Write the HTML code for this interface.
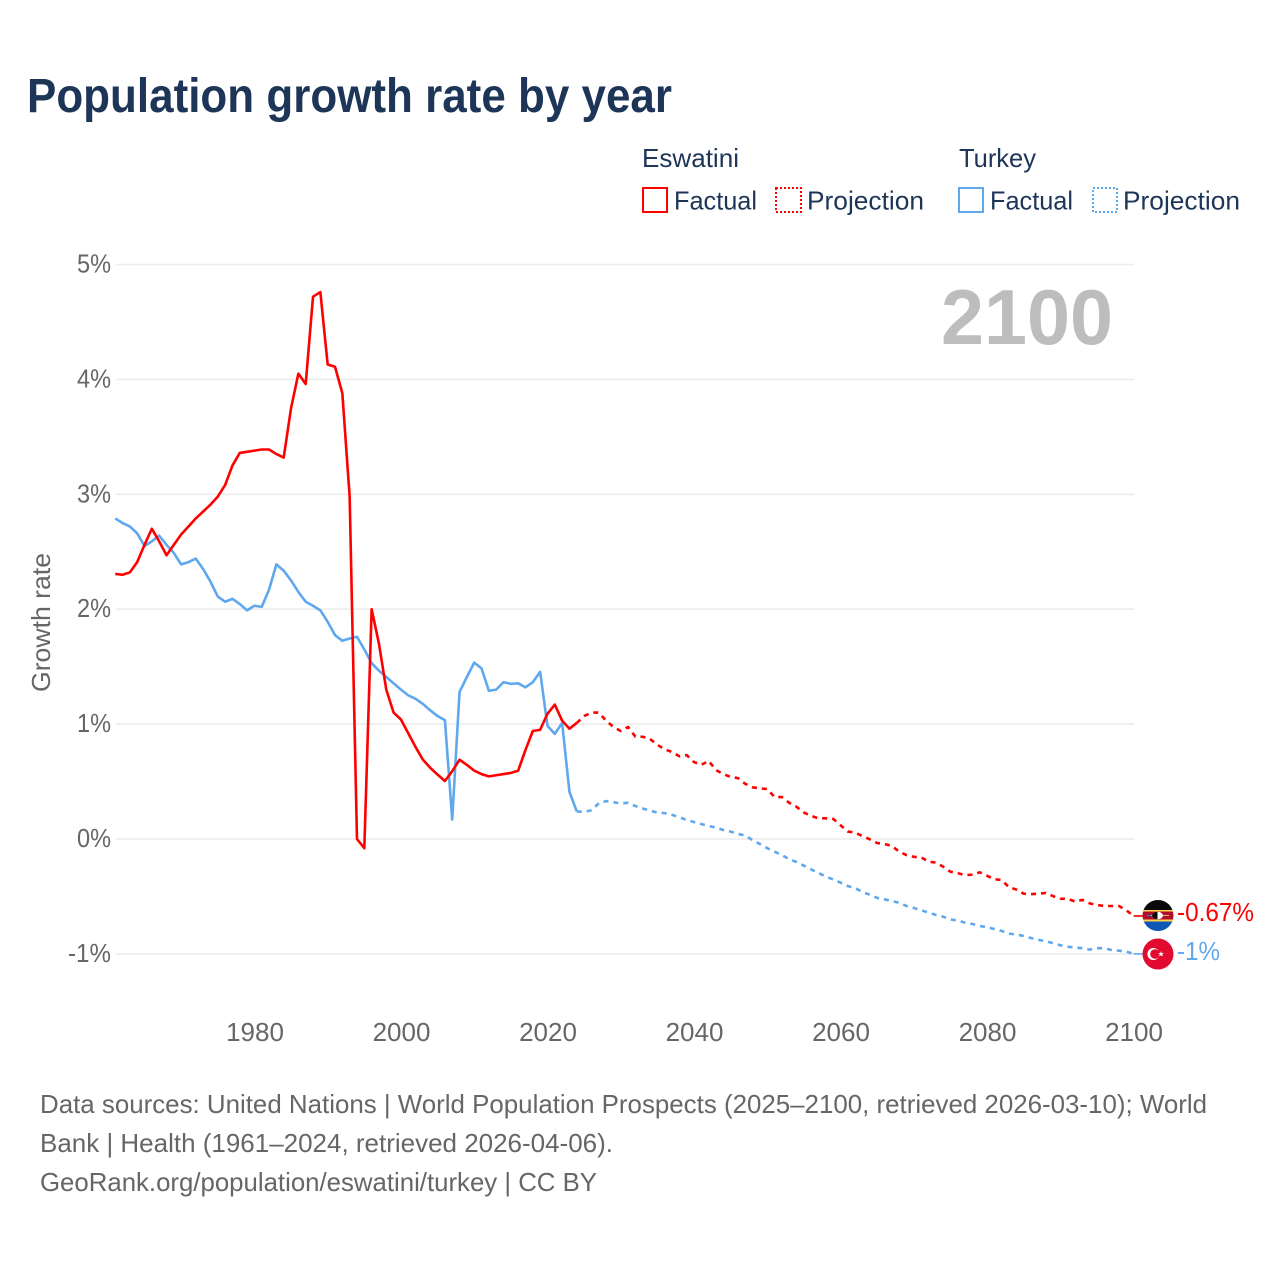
<!DOCTYPE html>
<html lang="en">
<head>
<meta charset="utf-8">
<title>Population growth rate by year</title>
<style>
  html, body { margin: 0; padding: 0; background: #fff; }
  svg { display: block; font-family: "Liberation Sans", sans-serif; }
</style>
</head>
<body>
<svg id="chart" width="1280" height="1280" viewBox="0 0 1280 1280" xmlns="http://www.w3.org/2000/svg">
  <rect x="0" y="0" width="1280" height="1280" fill="#ffffff"/>
  <text x="27" y="112" font-size="48" font-weight="700" fill="#1d3557" textLength="645" lengthAdjust="spacingAndGlyphs">Population growth rate by year</text>

  <g font-size="26" fill="#1d3557">
    <text x="642" y="167" textLength="97" lengthAdjust="spacingAndGlyphs">Eswatini</text>
    <text x="959" y="167" textLength="77" lengthAdjust="spacingAndGlyphs">Turkey</text>
    <rect x="643" y="188" width="24" height="24" fill="none" stroke="#ff0000" stroke-width="2"/>
    <text x="674" y="209.5" textLength="83" lengthAdjust="spacingAndGlyphs">Factual</text>
    <rect x="776" y="188" width="25" height="24" fill="none" stroke="#ff0000" stroke-width="2" stroke-dasharray="2 2"/>
    <text x="807" y="209.5" textLength="117" lengthAdjust="spacingAndGlyphs">Projection</text>
    <rect x="959" y="188" width="24" height="24" fill="none" stroke="#5fa8ee" stroke-width="2"/>
    <text x="990" y="209.5" textLength="83" lengthAdjust="spacingAndGlyphs">Factual</text>
    <rect x="1093" y="188" width="24" height="24" fill="none" stroke="#5fa8ee" stroke-width="2" stroke-dasharray="2 2"/>
    <text x="1123" y="209.5" textLength="117" lengthAdjust="spacingAndGlyphs">Projection</text>
  </g>

  <g id="grid"></g>
  <g id="y-ticks" font-size="26" fill="#666666"></g>
  <g id="x-ticks" font-size="26" fill="#666666"></g>

  <text transform="translate(50 622.5) rotate(-90)" text-anchor="middle" font-size="26" fill="#666666" textLength="139" lengthAdjust="spacingAndGlyphs">Growth rate</text>
  <text x="941" y="344" font-size="78" font-weight="700" fill="#bdbdbd" textLength="172" lengthAdjust="spacingAndGlyphs">2100</text>

  <g id="series"></g>

  <defs>
    <clipPath id="clip-eswatini"><circle cx="1158" cy="915.5" r="15.5"/></clipPath>
  </defs>
  <g clip-path="url(#clip-eswatini)">
    <rect x="1142" y="900" width="32" height="10" fill="#0a0a0a"/>
    <rect x="1142" y="910" width="32" height="1.5" fill="#ffd34d"/>
    <rect x="1142" y="911.5" width="32" height="8" fill="#b10c2b"/>
    <rect x="1142" y="919.5" width="32" height="2" fill="#ffd34d"/>
    <rect x="1142" y="921.5" width="32" height="10" fill="#0f57b5"/>
    <rect x="1147" y="915" width="22" height="1" fill="#e8c060"/>
    <ellipse cx="1157.5" cy="915.5" rx="5.5" ry="3.8" fill="#ffffff"/>
    <path d="M1157.5 911.7 A5.5 3.8 0 0 0 1157.5 919.3 Z" fill="#0a0a0a"/>
    <circle cx="1149" cy="915.5" r="1.4" fill="#2a4fa0"/>
  </g>
  <g>
    <circle cx="1158" cy="954" r="15.5" fill="#e30a2f"/>
    <circle cx="1153.4" cy="954" r="6" fill="#ffffff"/>
    <circle cx="1155" cy="954" r="4.8" fill="#e30a2f"/>
    <polygon points="1161,951 1161.7,953.1 1164,953.1 1162.2,954.4 1162.9,956.5 1161,955.2 1159.1,956.5 1159.8,954.4 1158,953.1 1160.3,953.1" fill="#ffffff"/>
  </g>
  <text x="1177" y="921" font-size="25.5" fill="#ff0000" textLength="77" lengthAdjust="spacingAndGlyphs">-0.67%</text>
  <text x="1177" y="960" font-size="25.5" fill="#5fa8ee" textLength="43" lengthAdjust="spacingAndGlyphs">-1%</text>

  <g font-size="26" fill="#666666">
    <text x="40" y="1113" textLength="1167" lengthAdjust="spacingAndGlyphs">Data sources: United Nations | World Population Prospects (2025–2100, retrieved 2026-03-10); World</text>
    <text x="40" y="1152" textLength="573" lengthAdjust="spacingAndGlyphs">Bank | Health (1961–2024, retrieved 2026-04-06).</text>
    <text x="40" y="1191" textLength="557" lengthAdjust="spacingAndGlyphs">GeoRank.org/population/eswatini/turkey | CC BY</text>
  </g>
</svg>

<script>
const factualYears = [1961,1962,1963,1964,1965,1966,1967,1968,1969,1970,1971,1972,1973,1974,1975,1976,1977,1978,1979,1980,1981,1982,1983,1984,1985,1986,1987,1988,1989,1990,1991,1992,1993,1994,1995,1996,1997,1998,1999,2000,2001,2002,2003,2004,2005,2006,2007,2008,2009,2010,2011,2012,2013,2014,2015,2016,2017,2018,2019,2020,2021,2022,2023,2024];
const projectionYears = [2024,2025,2026,2027,2028,2029,2030,2031,2032,2033,2034,2035,2036,2037,2038,2039,2040,2041,2042,2043,2044,2045,2046,2047,2048,2049,2050,2051,2052,2053,2054,2055,2056,2057,2058,2059,2060,2061,2062,2063,2064,2065,2066,2067,2068,2069,2070,2071,2072,2073,2074,2075,2076,2077,2078,2079,2080,2081,2082,2083,2084,2085,2086,2087,2088,2089,2090,2091,2092,2093,2094,2095,2096,2097,2098,2099,2100];
const eswatiniFactual = [2.307,2.30,2.32,2.41,2.56,2.70,2.59,2.47,2.56,2.65,2.72,2.79,2.85,2.91,2.98,3.08,3.25,3.36,3.37,3.38,3.39,3.39,3.35,3.32,3.75,4.05,3.96,4.72,4.76,4.13,4.11,3.88,2.98,0.0,-0.08,2.00,1.70,1.30,1.10,1.04,0.92,0.80,0.69,0.62,0.56,0.505,0.59,0.69,0.645,0.595,0.565,0.545,0.555,0.565,0.575,0.595,0.775,0.94,0.95,1.09,1.17,1.03,0.96,1.01];
const eswatiniProjection = [1.01,1.07,1.10,1.10,1.03,0.975,0.94,0.975,0.89,0.89,0.87,0.82,0.78,0.757,0.72,0.73,0.67,0.645,0.68,0.60,0.565,0.54,0.53,0.48,0.45,0.44,0.435,0.365,0.365,0.315,0.28,0.23,0.20,0.18,0.18,0.175,0.12,0.065,0.055,0.026,-0.003,-0.035,-0.044,-0.06,-0.11,-0.14,-0.155,-0.16,-0.197,-0.205,-0.24,-0.285,-0.297,-0.315,-0.31,-0.29,-0.32,-0.35,-0.357,-0.42,-0.44,-0.476,-0.48,-0.476,-0.47,-0.497,-0.52,-0.52,-0.545,-0.53,-0.56,-0.575,-0.583,-0.583,-0.583,-0.62,-0.67];
const turkeyFactual = [2.79,2.75,2.72,2.66,2.55,2.59,2.64,2.56,2.49,2.39,2.41,2.44,2.35,2.24,2.11,2.065,2.09,2.045,1.99,2.03,2.02,2.17,2.39,2.335,2.25,2.15,2.065,2.03,1.99,1.89,1.775,1.725,1.745,1.76,1.65,1.53,1.465,1.41,1.355,1.30,1.25,1.22,1.175,1.12,1.07,1.035,0.17,1.28,1.41,1.535,1.485,1.29,1.30,1.365,1.35,1.355,1.32,1.365,1.455,0.985,0.915,1.01,0.41,0.24];
const turkeyProjection = [0.24,0.235,0.25,0.31,0.33,0.32,0.31,0.315,0.287,0.265,0.247,0.23,0.225,0.21,0.19,0.165,0.148,0.13,0.113,0.10,0.078,0.064,0.044,0.03,-0.01,-0.044,-0.08,-0.11,-0.14,-0.177,-0.20,-0.232,-0.265,-0.296,-0.328,-0.352,-0.38,-0.41,-0.427,-0.462,-0.485,-0.513,-0.525,-0.54,-0.555,-0.583,-0.60,-0.62,-0.64,-0.66,-0.676,-0.70,-0.71,-0.728,-0.74,-0.757,-0.768,-0.783,-0.80,-0.824,-0.83,-0.844,-0.862,-0.877,-0.89,-0.907,-0.925,-0.937,-0.945,-0.95,-0.963,-0.95,-0.95,-0.966,-0.972,-0.98,-1.0];
const yTickValues = [5,4,3,2,1,0,-1];
const yTickLabels = ["5%","4%","3%","2%","1%","0%","-1%"];
const xTickYears = [1980,2000,2020,2040,2060,2080,2100];

const SVG_NS = "http://www.w3.org/2000/svg";
const xAxis = year => 115.2 + (year - 1961) * (1133.6 - 115.2) / (2100 - 1961);
const yAxis = value => 839 - value * 114.9;
const xLabelAxis = year => 255 + (year - 1980) * 7.325;

function make(parentId, tag, attrs, text) {
  const node = document.createElementNS(SVG_NS, tag);
  for (const key in attrs) node.setAttribute(key, attrs[key]);
  if (text !== undefined) node.textContent = text;
  document.getElementById(parentId).appendChild(node);
  return node;
}

yTickValues.forEach((value, i) => {
  const gridLine = make("grid", "line", { x1: 116, x2: 1134, y1: yAxis(value), y2: yAxis(value), stroke: "#ececec", "stroke-width": 1.6 });
  
  
  const label = yTickLabels[i];
  const yLabel = make("y-ticks", "text", { x: 111, y: yAxis(value) + 8, "text-anchor": "end", textLength: label.length > 2 ? 43 : 34, lengthAdjust: "spacingAndGlyphs" }, label);
  
  
});

xTickYears.forEach(year => {
  const xLabel = make("x-ticks", "text", { x: xLabelAxis(year), y: 1041, "text-anchor": "middle" }, String(year));
  
  
});

function pathFor(years, values) {
  return values.map((v, i) => (i ? "L" : "M") + xAxis(years[i]).toFixed(2) + " " + yAxis(v).toFixed(2)).join(" ");
}

const eswatiniProjectionLine = make("series", "path", { d: pathFor(projectionYears, eswatiniProjection), fill: "none", stroke: "#ff0000", "stroke-width": 2.6, "stroke-dasharray": "5 5", "stroke-linejoin": "round" });



const turkeyProjectionLine = make("series", "path", { d: pathFor(projectionYears, turkeyProjection), fill: "none", stroke: "#5fa8ee", "stroke-width": 2.6, "stroke-dasharray": "5 5", "stroke-linejoin": "round" });



const turkeyFactualLine = make("series", "path", { d: pathFor(factualYears, turkeyFactual), fill: "none", stroke: "#5fa8ee", "stroke-width": 2.6, "stroke-linejoin": "round" });



const eswatiniFactualLine = make("series", "path", { d: pathFor(factualYears, eswatiniFactual), fill: "none", stroke: "#ff0000", "stroke-width": 2.6, "stroke-linejoin": "round" });



const eswatiniEnd = eswatiniProjection[eswatiniProjection.length - 1];
const turkeyEnd = turkeyProjection[turkeyProjection.length - 1];
const eswatiniConnector = make("series", "line", { x1: xAxis(2100), x2: 1143, y1: yAxis(eswatiniEnd), y2: yAxis(eswatiniEnd), stroke: "#ff0000", "stroke-width": 1.6 });


const turkeyConnector = make("series", "line", { x1: xAxis(2100), x2: 1143, y1: yAxis(turkeyEnd), y2: yAxis(turkeyEnd), stroke: "#5fa8ee", "stroke-width": 1.6 });


</script>
</body>
</html>
